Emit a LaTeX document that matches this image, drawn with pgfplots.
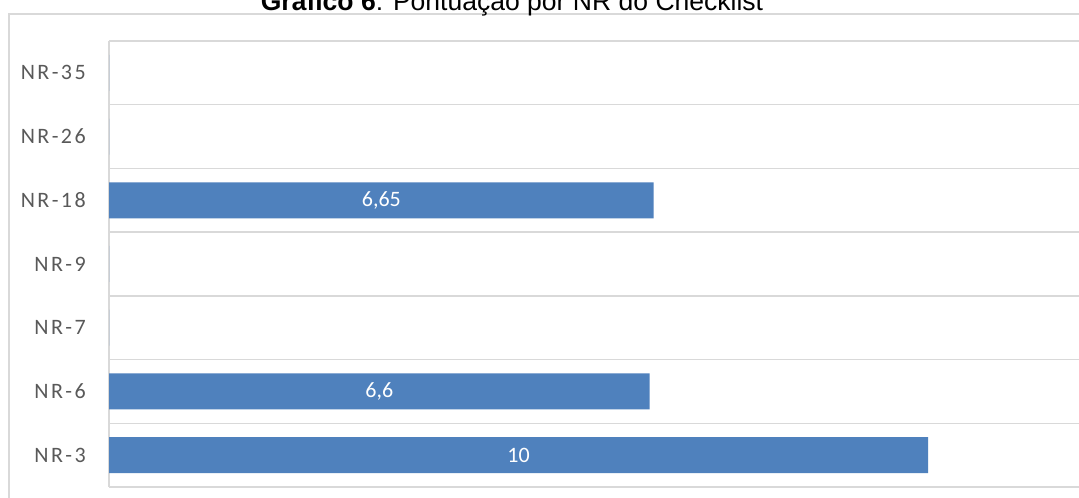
\documentclass[border=0pt]{standalone}
\usepackage{pgfplots}
\pgfplotsset{compat=1.18}
\usepackage{pgfplotstable}
\usepackage{fontspec}
\setmainfont{Carlito}
\newfontfamily\titlefont{Liberation Sans}
\newfontfamily\spacedfont[LetterSpace=11]{Carlito}
\definecolor{barblue}{HTML}{4F81BD}
\definecolor{gridgray}{HTML}{D9D9D9}
\definecolor{labelgray}{HTML}{595959}

\pgfplotstableread{
y val label
0 10 10
1 6.6 6,6
2 0 {}
3 0 {}
4 6.65 6,65
5 0 {}
6 0 {}
}\nrdata

\begin{document}
\begin{tikzpicture}
\useasboundingbox (0,0) rectangle (809.25pt,373.5pt);
\clip (0,0) rectangle (809.25pt,373.5pt);
\fill[white] (0,0) rectangle (809.25pt,373.5pt);
% outer chart frame
\draw[gridgray, line width=1pt] (6.75pt,-20pt) -- (6.75pt,363pt) -- (830pt,363pt);
% title
\node[anchor=base, inner sep=0pt, font=\titlefont\fontsize{19.9pt}{22pt}\selectfont] at (384pt,365.25pt)
  {\textbf{Gráfico 6}: Pontuação por NR do Checklist};
\begin{axis}[
  at={(81.75pt,8.25pt)}, anchor=south west,
  scale only axis,
  width=737.25pt, height=334.5pt,
  xmin=0, xmax=12,
  ymin=-0.5, ymax=6.5,
  axis x line=none,
  axis y line*=left,
  y axis line style={draw=gridgray, line width=0.8pt, -},
  xtick=\empty,
  ytick={0,1,2,3,4,5,6},
  yticklabels={NR-3,NR-6,NR-7,NR-9,NR-18,NR-26,NR-35},
  minor ytick={-0.5,0.5,1.5,2.5,3.5,4.5,5.5,6.5},
  yminorgrids=true,
  minor grid style={draw=gridgray, line width=1pt},
  major tick length=0pt, minor tick length=0pt,
  yticklabel style={anchor=east, inner sep=0pt, xshift=-17.25pt,
    font=\spacedfont\fontsize{16.5pt}{18pt}\selectfont, text=labelgray},
  clip=false,
]
\addplot[xbar, bar width=27pt, fill=barblue, draw=none] table[x=val, y=y] {\nrdata};
\addplot[draw=none, mark=none,
  nodes near coords, point meta=explicit symbolic,
  every node near coord/.style={anchor=center, text=white,
    font=\fontsize{16.5pt}{18pt}\selectfont}]
  table[x expr=\thisrow{val}/2, y=y, meta=label] {\nrdata};
\end{axis}
\end{tikzpicture}
\end{document}
